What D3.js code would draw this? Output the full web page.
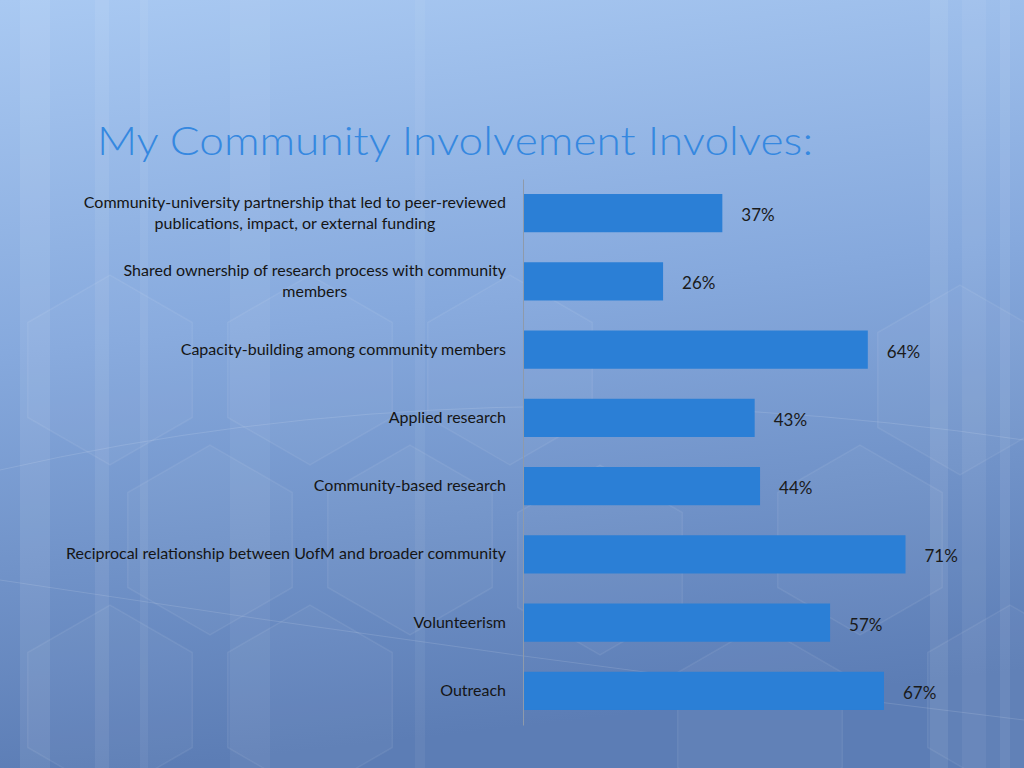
<!DOCTYPE html>
<html>
<head>
<meta charset="utf-8">
<script src="https://cdn.jsdelivr.net/npm/d3@7"></script>
<style>
  html, body { margin: 0; padding: 0; background: #7c9fd6; }
  svg { display: block; }
</style>
</head>
<body>
<div id="chart"></div>
<script>
const categories = [
  ["Community-university partnership that led to peer-reviewed", "publications, impact, or external funding"],
  ["Shared ownership of research process with community", "members"],
  ["Capacity-building among community members"],
  ["Applied research"],
  ["Community-based research"],
  ["Reciprocal relationship between UofM and broader community"],
  ["Volunteerism"],
  ["Outreach"]
];
const values = [37, 26, 64, 43, 44, 71, 57, 67];
const title = "My Community Involvement Involves:";

const width = 1024, height = 768;
const margin = { top: 179, left: 523, bottom: 43 };

const svg = d3.select("#chart").append("svg")
  .attr("width", width)
  .attr("height", height);

// background
const defs = svg.append("defs");
const bg = defs.append("linearGradient")
  .attr("id", "bg").attr("x1", 0).attr("y1", 0).attr("x2", 0.15).attr("y2", 1);
bg.append("stop").attr("offset", "0%").attr("stop-color", "#a9c9f2");
bg.append("stop").attr("offset", "45%").attr("stop-color", "#86a9dd");
bg.append("stop").attr("offset", "100%").attr("stop-color", "#5c7db5");
svg.append("rect").attr("width", width).attr("height", height).attr("fill", "url(#bg)");

// faint vertical stripes
const stripes = [[20, 30, 0.08], [95, 14, 0.07], [140, 8, 0.06], [230, 40, 0.05], [415, 10, 0.05],
                 [930, 18, 0.08], [962, 24, 0.06], [1000, 10, 0.07]];
svg.append("g").selectAll("rect").data(stripes).enter().append("rect")
  .attr("x", d => d[0]).attr("y", 0).attr("width", d => d[1]).attr("height", height)
  .attr("fill", "#ffffff").attr("opacity", d => d[2]);

// faint hexagons
function hexPath(cx, cy, r) {
  const pts = d3.range(6).map(i => {
    const a = Math.PI / 3 * i + Math.PI / 6;
    return [cx + r * Math.cos(a), cy + r * Math.sin(a)];
  });
  return "M" + pts.join("L") + "Z";
}
const hexes = [[110, 370, 95], [310, 370, 95], [510, 370, 95], [210, 540, 95], [410, 540, 95],
               [110, 700, 95], [310, 700, 95], [600, 560, 95], [860, 540, 95], [960, 380, 95],
               [760, 720, 95], [1010, 700, 95]];
svg.append("g").selectAll("path").data(hexes).enter().append("path")
  .attr("d", d => hexPath(d[0], d[1], d[2]))
  .attr("fill", "#ffffff").attr("fill-opacity", 0.03)
  .attr("stroke", "#ffffff").attr("stroke-opacity", 0.07).attr("stroke-width", 1.5);

// faint arcs
svg.append("path")
  .attr("d", "M0,470 Q480,360 1024,440")
  .attr("fill", "none").attr("stroke", "#ffffff").attr("stroke-opacity", 0.12);
svg.append("path")
  .attr("d", "M0,580 Q520,660 1024,720")
  .attr("fill", "none").attr("stroke", "#ffffff").attr("stroke-opacity", 0.12);

// title
svg.append("text")
  .attr("x", 97).attr("y", 155)
  .attr("font-family", "Lato, 'Open Sans', sans-serif")
  .attr("font-weight", 300)
  .attr("font-size", 40)
  .attr("fill", "#3588e0")
  .attr("textLength", 716)
  .attr("lengthAdjust", "spacingAndGlyphs")
  .text(title);

// scales
const x = d3.scaleLinear().domain([0, 80]).range([margin.left, margin.left + 431]);
const y = d3.scaleBand()
  .domain(d3.range(categories.length))
  .range([margin.top, height - margin.bottom])
  .paddingInner(0.44)
  .paddingOuter(0.22);

// bars
svg.append("g").selectAll("rect").data(values).enter().append("rect")
  .attr("x", x(0))
  .attr("y", (d, i) => y(i))
  .attr("width", d => x(d) - x(0))
  .attr("height", y.bandwidth())
  .attr("fill", "#2b7fd6");

// category axis
const axis = svg.append("g")
  .attr("transform", "translate(" + x(0) + ",0)")
  .call(d3.axisLeft(y).tickSize(0).tickFormat(""));
axis.select(".domain").attr("stroke", "#8e9aab").attr("stroke-width", 1);

// category labels
const labels = svg.append("g")
  .attr("font-family", "Lato, 'Open Sans', sans-serif")
  .attr("font-size", 16)
  .attr("fill", "#151515")
  .attr("text-anchor", "middle");
categories.forEach((lines, i) => {
  const cy = y(i) + y.bandwidth() / 2;
  const t = labels.append("text");
  const lh = 21;
  const start = cy - (lines.length - 1) * lh / 2 + 5;
  lines.forEach((ln, j) => {
    t.append("tspan").attr("y", start + j * lh).text(ln);
  });
});
// right-align the first line, centre later lines under it
labels.selectAll("text").each(function () {
  const tsp = d3.select(this).selectAll("tspan");
  const w0 = tsp.nodes()[0].getComputedTextLength();
  const cx = 506 - w0 / 2;
  tsp.attr("x", cx);
});

// value labels
svg.append("g").selectAll("text").data(values).enter().append("text")
  .attr("x", d => x(d) + 19)
  .attr("y", (d, i) => y(i) + y.bandwidth() / 2 + 8)
  .attr("font-family", "Lato, 'Open Sans', sans-serif")
  .attr("font-size", 17)
  .attr("fill", "#1a1a1a")
  .text(d => d + "%");
</script>
</body>
</html>
